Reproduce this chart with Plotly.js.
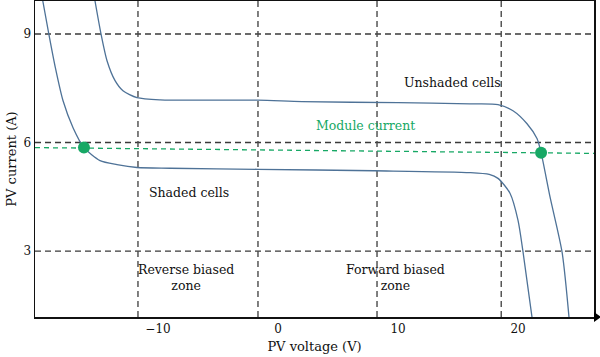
<!DOCTYPE html>
<html>
<head>
<meta charset="utf-8">
<script src="https://cdn.plot.ly/plotly-3.0.1.min.js"></script>
<style>html,body{margin:0;padding:0;background:#fff;}#chart{width:600px;height:357px;}</style>
</head>
<body>
<div id="chart"></div>
<script>
// Shaded cells I-V curve
const shadedV = [-19.6, -19.1, -18.55, -17.92, -17.08, -16.17, -14.83, -13.42, -11.75, -9.0, -1.67, 8.0, 16.0, 17.6, 18.33, 19.33, 20.0, 20.42, 21.17];
const shadedI = [9.91, 9.0, 8.06, 7.16, 6.41, 5.86, 5.50, 5.39, 5.31, 5.29, 5.26, 5.22, 5.17, 5.12, 5.01, 4.60, 3.85, 2.97, 1.16];
// Unshaded cells I-V curve
const unshadedV = [-15.25, -14.75, -14.25, -13.58, -12.92, -11.75, -9.83, -1.67, 2.0, 10.0, 16.0, 18.33, 19.58, 20.75, 21.58, 21.92, 22.67, 23.67, 24.25];
const unshadedI = [9.91, 9.0, 8.26, 7.71, 7.43, 7.24, 7.18, 7.17, 7.13, 7.10, 7.07, 7.05, 6.88, 6.52, 6.11, 5.72, 4.49, 2.97, 1.16];
// Module current line
const moduleV = [-20.25, 26.33];
const moduleI = [5.86, 5.70];
// Operating points
const pointV = [-16.17, 21.92];
const pointI = [5.86, 5.72];
// Axis ticks
const xTicks = [-10, 0, 10, 20];
const xTickText = ["\u221210", "0", "10", "20"];
const yTicks = [3, 6, 9];
// Zone boundaries (vertical dashed lines)
const vLines = [-11.67, -1.67, 8.25, 18.6];
const hLines = [3, 6, 9];
// Labels
const labelText = ["Unshaded cells", "Module current", "Shaded cells", "Reverse biased<br>zone", "Forward biased<br>zone"];
const labelV = [14.5, 7.25, -7.4, -7.67, 9.83];
const labelI = [7.65, 6.47, 4.62, 2.27, 2.27];
const labelColor = ["#111", "#17a865", "#111", "#111", "#111"];

const curveColor = "#4e7297";
const green = "#17a865";
const font = "DejaVu Serif";

const traces = [
  {x: shadedV, y: shadedI, mode: "lines", line: {color: curveColor, width: 1.3, shape: "spline", smoothing: 0.7}, hoverinfo: "skip"},
  {x: unshadedV, y: unshadedI, mode: "lines", line: {color: curveColor, width: 1.3, shape: "spline", smoothing: 0.7}, hoverinfo: "skip"},
  {x: moduleV, y: moduleI, mode: "lines", line: {color: green, width: 1.3, dash: "5px,4px"}, hoverinfo: "skip"},
  {x: pointV, y: pointI, mode: "markers", marker: {color: green, size: 12}, cliponaxis: false, hoverinfo: "skip"}
];

const shapes = [];
hLines.forEach(v => shapes.push({type: "line", xref: "paper", x0: 0, x1: 1, yref: "y", y0: v, y1: v, line: {color: "#3a3a3a", width: 1.4, dash: "6px,4px"}, layer: "below"}));
vLines.forEach(v => shapes.push({type: "line", yref: "paper", y0: 0, y1: 1, xref: "x", x0: v, x1: v, line: {color: "#4a4a4a", width: 1.4, dash: "6px,4px"}, layer: "below"}));
shapes.push({type: "path", xref: "paper", yref: "paper", xsizemode: "pixel", ysizemode: "pixel", xanchor: 1, yanchor: 0, path: "M0,5 L7,0 L0,-5 Z", fillcolor: "#000", line: {color: "#000", width: 0}});

const annotations = labelText.map((t, i) => ({x: labelV[i], y: labelI[i], xref: "x", yref: "y", text: t, showarrow: false, font: {family: font, size: 12.5, color: labelColor[i]}, align: "center"}));

const layout = {
  width: 600, height: 357,
  margin: {l: 35, r: 6, t: 1, b: 40},
  paper_bgcolor: "#fff", plot_bgcolor: "#fff",
  showlegend: false,
  font: {family: font, size: 12, color: "#111"},
  xaxis: {range: [-20.25, 26.33], tickvals: xTicks, ticktext: xTickText, showgrid: false, zeroline: false, showline: true, linecolor: "#111", linewidth: 1.5, mirror: true, ticks: "", tickfont: {family: font, size: 12, color: "#111"}, title: {text: "PV voltage (V)", font: {family: font, size: 13, color: "#111"}, standoff: 7}},
  yaxis: {range: [1.18, 9.91], tickvals: yTicks, showgrid: false, zeroline: false, showline: true, linecolor: "#111", linewidth: 1.5, mirror: true, ticks: "", tickfont: {family: font, size: 12, color: "#111"}, title: {text: "PV current (A)", font: {family: font, size: 13, color: "#111"}, standoff: 4}},
  shapes: shapes,
  annotations: annotations
};

Plotly.newPlot("chart", traces, layout, {staticPlot: true, displayModeBar: false});
</script>
</body>
</html>
